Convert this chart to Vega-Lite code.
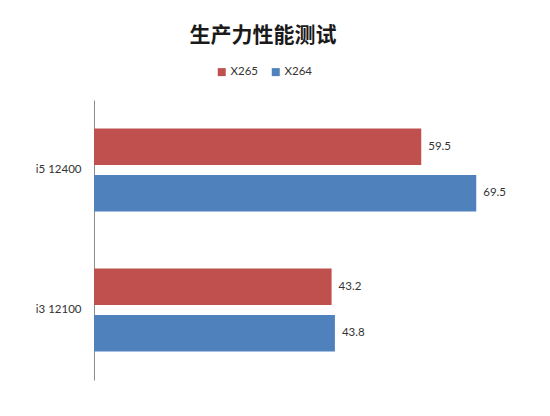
{
  "$schema": "https://vega.github.io/schema/vega-lite/v6.json",
  "description": "生产力性能测试 grouped horizontal bars",
  "autosize": {"type": "none"},
  "padding": {"left": 94, "top": 100, "right": 16, "bottom": 36},
  "width": 440,
  "height": 280,
  "title": {
    "text": "生产力性能测试",
    "font": "Noto Sans CJK SC",
    "fontSize": 21,
    "fontWeight": "bold",
    "color": "#1a1a1a",
    "anchor": "middle",
    "dx": -51,
    "offset": 20
  },
  "data": {
    "values": [
      {"cpu": "i5 12400", "codec": "X265", "value": 59.5},
      {"cpu": "i5 12400", "codec": "X264", "value": 69.5},
      {"cpu": "i3 12100", "codec": "X265", "value": 43.2},
      {"cpu": "i3 12100", "codec": "X264", "value": 43.8}
    ]
  },
  "encoding": {
    "y": {
      "field": "cpu",
      "type": "nominal",
      "sort": ["i5 12400", "i3 12100"],
      "scale": {"paddingInner": 0, "paddingOuter": 0},
      "axis": {
        "title": null,
        "ticks": false,
        "labelPadding": 13,
        "labelFont": "Lato",
        "labelFontSize": 11.5,
        "labelColor": "#333333",
        "domainColor": "#8c8c8c",
        "grid": false
      }
    },
    "yOffset": {
      "field": "codec",
      "type": "nominal",
      "sort": ["X265", "X264"],
      "scale": {"paddingInner": 0.215, "paddingOuter": 0.613}
    },
    "x": {
      "field": "value",
      "type": "quantitative",
      "scale": {"domain": [0, 80], "nice": false},
      "axis": null
    }
  },
  "layer": [
    {
      "mark": {"type": "bar"},
      "encoding": {
        "color": {
          "field": "codec",
          "type": "nominal",
          "scale": {"domain": ["X265", "X264"], "range": ["#C0504D", "#4F81BD"]},
          "legend": {
            "orient": "none",
            "direction": "horizontal",
            "legendX": 122,
            "legendY": -34,
            "title": null,
            "symbolType": "square",
            "symbolSize": 64,
            "symbolStrokeWidth": 0,
            "labelFont": "Lato",
            "labelFontSize": 11.5,
            "labelColor": "#333333",
            "labelOffset": 3,
            "columnPadding": 12
          }
        }
      }
    },
    {
      "mark": {
        "type": "text",
        "align": "left",
        "baseline": "middle",
        "dx": 7,
        "font": "Lato",
        "fontSize": 11.5,
        "color": "#333333"
      },
      "encoding": {
        "text": {"field": "value", "type": "quantitative", "format": ".1f"}
      }
    }
  ],
  "config": {
    "background": "white",
    "view": {"stroke": null}
  }
}
